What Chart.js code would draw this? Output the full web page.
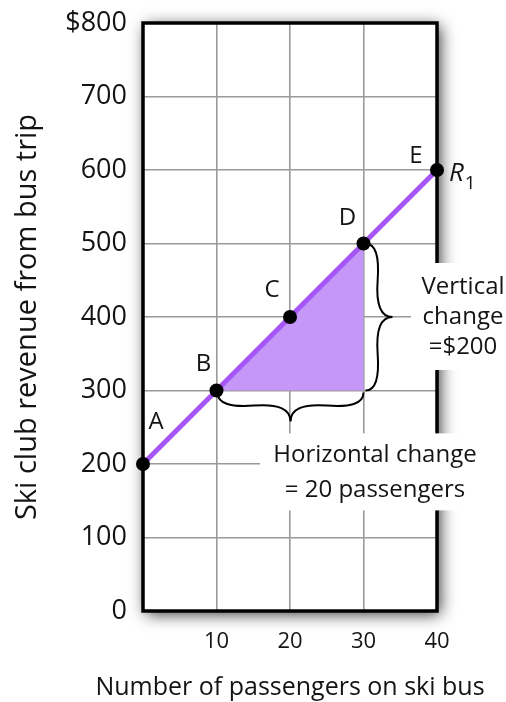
<!DOCTYPE html>
<html>
<head>
<script src="https://cdn.jsdelivr.net/npm/chart.js"></script>
<style>
  html, body { margin: 0; padding: 0; background: #fff; }
</style>
</head>
<body>
<canvas id="revenueChart" width="506" height="702"></canvas>
<script>
  // data
  const passengers = [0, 10, 20, 30, 40];
  const revenue = [200, 300, 400, 500, 600];
  const pointNames = ['A', 'B', 'C', 'D', 'E'];
  const xTickValues = [10, 20, 30, 40];
  const yTickValues = [0, 100, 200, 300, 400, 500, 600, 700, 800];
  const fromIdx = 1; // B
  const toIdx = 3;   // D
  const lineName = 'R';
  const lineSub = '1';
  const xTitle = 'Number of passengers on ski bus';
  const yTitle = 'Ski club revenue from bus trip';
  const vertLabel = ['Vertical', 'change', '=$200'];
  const horizLabel = ['Horizontal change', '= 20 passengers'];

  const FONT = "'Open Sans', sans-serif";
  const INK = '#141414';
  const PURPLE = '#a656f6';
  const LILAC = '#c597f8';

  const linePts = passengers.map((p, i) => ({ x: p, y: revenue[i] }));
  const triangle = [
    { x: passengers[fromIdx], y: revenue[fromIdx] },
    { x: passengers[toIdx], y: revenue[toIdx] },
    { x: passengers[toIdx], y: revenue[fromIdx] }
  ];

  function brace(ctx, x1, y1, x2, y2, w, q) {
    let dx = x1 - x2, dy = y1 - y2;
    const len = Math.hypot(dx, dy);
    dx /= len; dy /= len;
    const qx1 = x1 + q * w * dy, qy1 = y1 - q * w * dx;
    const qx2 = (x1 - 0.25 * len * dx) + (1 - q) * w * dy;
    const qy2 = (y1 - 0.25 * len * dy) - (1 - q) * w * dx;
    const tx = (x1 - 0.5 * len * dx) + w * dy;
    const ty = (y1 - 0.5 * len * dy) - w * dx;
    const qx3 = x2 + q * w * dy, qy3 = y2 - q * w * dx;
    const qx4 = (x1 - 0.75 * len * dx) + (1 - q) * w * dy;
    const qy4 = (y1 - 0.75 * len * dy) - (1 - q) * w * dx;
    ctx.beginPath();
    ctx.moveTo(x1, y1);
    ctx.quadraticCurveTo(qx1, qy1, qx2, qy2);
    ctx.quadraticCurveTo(2 * qx2 - qx1, 2 * qy2 - qy1, tx, ty);
    ctx.moveTo(x2, y2);
    ctx.quadraticCurveTo(qx3, qy3, qx4, qy4);
    ctx.quadraticCurveTo(2 * qx4 - qx3, 2 * qy4 - qy3, tx, ty);
    ctx.stroke();
  }

  const framePlugin = {
    id: 'frame',
    beforeDraw(chart) {
      const { ctx, chartArea: a } = chart;
      ctx.save();
      ctx.fillStyle = '#fff';
      ctx.shadowColor = 'rgba(0,0,0,0.8)';
      ctx.shadowBlur = 15;
      ctx.shadowOffsetX = 3;
      ctx.shadowOffsetY = 3;
      ctx.fillRect(a.left, a.top, a.right - a.left, a.bottom - a.top);
      ctx.restore();
    },
    beforeDatasetsDraw(chart) {
      const { ctx, chartArea: a, scales: { x, y } } = chart;
      ctx.save();
      ctx.strokeStyle = '#000';
      ctx.lineWidth = 3.5;
      ctx.strokeRect(a.left, a.top, a.right - a.left, a.bottom - a.top);

      // white boxes behind the two labels
      ctx.fillStyle = '#fff';
      const yMid = y.getPixelForValue((revenue[fromIdx] + revenue[toIdx]) / 2);
      ctx.fillRect(a.right - 26, yMid - 54, 120, 107);
      const hx = x.getPixelForValue(passengers[2]);
      const hy = y.getPixelForValue(175);
      ctx.fillRect(hx - 30, hy - 49, 220, 77);

      // braces
      ctx.strokeStyle = '#000';
      ctx.lineWidth = 2;
      const bx = x.getPixelForValue(passengers[fromIdx]);
      const dx = x.getPixelForValue(passengers[toIdx]);
      const by = y.getPixelForValue(revenue[fromIdx]);
      const dy = y.getPixelForValue(revenue[toIdx]);
      brace(ctx, bx + 1, by + 2, dx, by + 2, 29, 0.55);
      brace(ctx, dx + 2, by, dx + 2, dy, 27, 0.55);
      ctx.restore();
    },
    afterDatasetsDraw(chart) {
      const { ctx, chartArea: a, scales: { x, y } } = chart;
      const meta = chart.getDatasetMeta(0);
      ctx.save();
      ctx.fillStyle = INK;
      ctx.font = "24px " + FONT;
      ctx.textAlign = 'center';
      ctx.textBaseline = 'middle';
      const offs = [[13, -42], [-13, -26], [-18, -27], [-16, -25], [-21, -14]];
      meta.data.forEach((pt, i) => {
        ctx.fillText(pointNames[i], pt.x + offs[i][0], pt.y + offs[i][1]);
      });
      // R1
      const e = meta.data[meta.data.length - 1];
      ctx.textAlign = 'left';
      ctx.font = "italic 26px " + FONT;
      ctx.fillText(lineName, e.x + 12, e.y + 4);
      const rw = ctx.measureText(lineName).width;
      ctx.font = "19px " + FONT;
      ctx.fillText(lineSub, e.x + 13 + rw, e.y + 14);

      // change labels
      ctx.font = "24px " + FONT;
      ctx.textAlign = 'center';
      const yMid = y.getPixelForValue((revenue[fromIdx] + revenue[toIdx]) / 2);
      vertLabel.forEach((t, i) => ctx.fillText(t, a.right + 26, yMid - 30 + i * 30));
      const hx = x.getPixelForValue(passengers[2]);
      const hy = y.getPixelForValue(175);
      horizLabel.forEach((t, i) => ctx.fillText(t, hx + 85, hy - 27 + i * 35));

      // x axis title (drawn here so it is not squeezed to the axis width)
      ctx.font = "25px " + FONT;
      ctx.fillText(xTitle, (a.left + a.right) / 2, chart.height - 14);
      ctx.restore();
    }
  };

  new Chart(document.getElementById('revenueChart'), {
    type: 'scatter',
    data: {
      datasets: [
        {
          data: linePts,
          showLine: true,
          borderColor: PURPLE,
          borderWidth: 5,
          pointRadius: 7,
          pointHoverRadius: 7,
          pointBackgroundColor: '#000',
          pointBorderWidth: 0,
          clip: false
        },
        {
          data: triangle,
          showLine: true,
          fill: 'shape',
          backgroundColor: LILAC,
          borderWidth: 0,
          pointRadius: 0
        }
      ]
    },
    options: {
      responsive: false,
      animation: false,
      events: [],
      layout: { autoPadding: false, padding: { top: 23, right: 69, left: 0, bottom: 0 } },
      plugins: { legend: { display: false }, tooltip: { enabled: false } },
      scales: {
        x: {
          type: 'linear',
          min: 0, max: 40,
          afterFit: s => { s.height = 91; },
          afterBuildTicks: s => { s.ticks = [0].concat(xTickValues).map(v => ({ value: v })); },
          ticks: {
            padding: 18,
            color: INK,
            font: { family: FONT, size: 22 },
            callback: v => xTickValues.includes(v) ? String(v) : ''
          },
          grid: { color: '#9a9a9a', lineWidth: 1.6, drawTicks: false },
          border: { display: false }
        },
        y: {
          min: 0, max: 800,
          afterFit: s => { s.width = 143; },
          afterBuildTicks: s => { s.ticks = yTickValues.map(v => ({ value: v })); },
          ticks: {
            padding: 16,
            color: INK,
            font: { family: FONT, size: 27, lineHeight: 0.5 },
            callback: v => v === yTickValues[yTickValues.length - 1] ? '$' + v : String(v)
          },
          grid: { color: '#9a9a9a', lineWidth: 1.6, drawTicks: false },
          border: { display: false },
          title: {
            display: true,
            text: yTitle,
            color: INK,
            font: { family: FONT, size: 29 },
            padding: { top: 10, bottom: 0 }
          }
        }
      }
    },
    plugins: [framePlugin]
  });
</script>
</body>
</html>
